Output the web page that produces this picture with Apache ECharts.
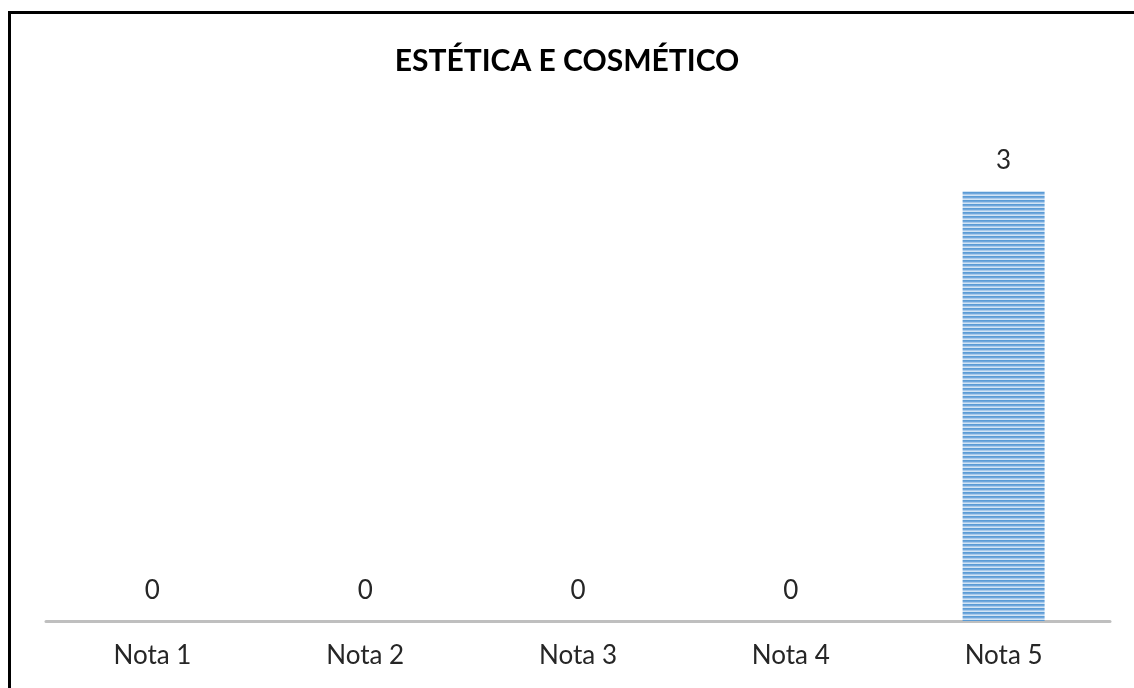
<!DOCTYPE html>
<html>
<head>
<meta charset="utf-8">
<script src="https://cdn.jsdelivr.net/npm/echarts@6/dist/echarts.min.js"></script>
<style>
html,body{margin:0;padding:0;background:#fff;}
#frame{position:absolute;left:8px;top:11px;width:1140px;height:700px;border-left:3px solid #000;border-top:3px solid #000;box-sizing:border-box;}
#chart{position:absolute;left:0;top:0;width:1134px;height:688px;}
</style>
</head>
<body>
<div id="frame"></div>
<div id="chart"></div>
<script>
const titleText = 'ESTÉTICA E COSMÉTICO';
const categories = ['Nota 1', 'Nota 2', 'Nota 3', 'Nota 4', 'Nota 5'];
const values = [0, 0, 0, 0, 3];

function stripePattern() {
  const c = document.createElement('canvas');
  c.width = 8; c.height = 4;
  const ctx = c.getContext('2d');
  const rows = ['#5b9bd5', '#6fa7dc', '#a9c9ea', '#d2e4f5'];
  rows.forEach((col, i) => { ctx.fillStyle = col; ctx.fillRect(0, i, 8, 1); });
  return c;
}

const chart = echarts.init(document.getElementById('chart'));
chart.setOption({
  backgroundColor: 'transparent',
  animation: false,
  title: {
    text: titleText,
    left: 'center',
    top: 41,
    textStyle: { fontFamily: 'Lato', fontWeight: 'bold', fontSize: 30, color: '#000' }
  },
  grid: { left: 46, right: 24, top: 191, bottom: 67 },
  xAxis: {
    type: 'category',
    data: categories,
    axisLine: { lineStyle: { color: '#bfbfbf', width: 3 } },
    axisTick: { show: false },
    axisLabel: { fontFamily: 'Lato', fontSize: 26, color: '#262626', margin: 22 }
  },
  yAxis: {
    type: 'value',
    min: 0, max: 3,
    show: false,
    splitLine: { show: false }
  },
  series: [{
    type: 'bar',
    data: values,
    barWidth: 82,
    itemStyle: { color: { image: stripePattern(), repeat: 'repeat' } },
    label: { show: true, position: 'top', distance: 17, fontFamily: 'Lato', fontSize: 26, color: '#262626' }
  }]
});
</script>
</body>
</html>
